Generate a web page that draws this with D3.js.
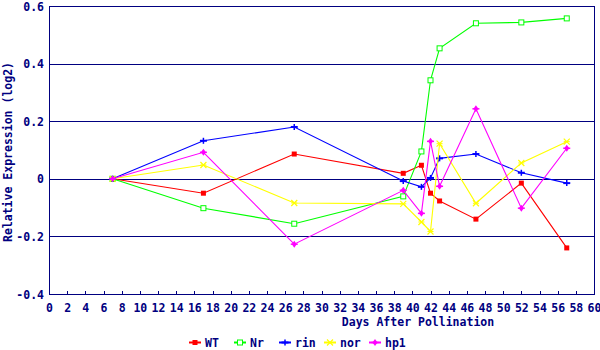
<!DOCTYPE html>
<html><head><meta charset="utf-8">
<script src="https://cdn.jsdelivr.net/npm/d3@7"></script>
<style>body{margin:0;background:#fff}svg{display:block}text{font-family:"DejaVu Sans Mono",monospace;font-weight:bold;font-size:11.5px;fill:#000080}</style>
</head><body><svg id="c" width="600" height="350"></svg>
<script>
const days = [7, 17, 27, 39, 41, 42, 43, 47, 52, 57];
const seriesNames = ["WT", "Nr", "rin", "nor", "hp1"];
const WT  = [0, -0.050, 0.086, 0.019, 0.047, -0.050, -0.077, -0.140, -0.015, -0.240];
const Nr  = [0, -0.102, -0.156, -0.061, 0.095, 0.342, 0.453, 0.540, 0.543, 0.557];
const rin = [0, 0.132, 0.180, -0.008, -0.028, 0.003, 0.071, 0.086, 0.021, -0.015];
const nor = [0, 0.048, -0.084, -0.087, -0.150, -0.183, 0.122, -0.085, 0.055, 0.129];
const hp1 = [0, 0.092, -0.227, -0.040, -0.120, 0.130, -0.026, 0.243, -0.102, 0.106];
const xTicks = d3.range(0, 61, 2);
const yTicks = [-0.4, -0.2, 0, 0.2, 0.4, 0.6];
const xTitle = "Days After Pollination";
const yTitle = "Relative Expression (log2)";

const colors = ["#ff0000", "#00ff00", "#0000ff", "#ffff00", "#ff00ff"];
const shapes = ["fsquare", "osquare", "plus", "cross", "star"];
const values = [WT, Nr, rin, nor, hp1];
const navy = "#000080";
const FONT = '"DejaVu Sans Mono",monospace';

const svg = d3.select("#c");
const L = 49, R = 594, T = 6, B = 294;
const x = d3.scaleLinear().domain([0, 60]).range([L, R]);
const y = d3.scaleLinear().domain([-0.4, 0.6]).range([B, T]);

// gridlines
svg.append("g").selectAll("line").data(yTicks).join("line")
  .attr("x1", L).attr("x2", R).attr("y1", d => y(d) + 0.5).attr("y2", d => y(d) + 0.5)
  .attr("stroke", navy).attr("stroke-width", 1).attr("shape-rendering", "crispEdges");
// frame
svg.append("rect").attr("x", L + 0.5).attr("y", T + 0.5).attr("width", R - L).attr("height", B - T)
  .attr("fill", "none").attr("stroke", navy).attr("shape-rendering", "crispEdges");

// x axis ticks (inward)
const xAxis = d3.axisBottom(x).tickValues(xTicks).tickSize(-4).tickPadding(9).tickFormat(d3.format("d"));
const gx = svg.append("g").attr("transform", `translate(0,${B + 0.5})`).call(xAxis);
gx.select(".domain").remove();
gx.selectAll("line").attr("stroke", navy).attr("shape-rendering", "crispEdges");
gx.selectAll("text").attr("fill", navy).style("font-size", "11.5px").style("font-family", FONT).style("font-weight", "bold");

// y axis labels
const yAxis = d3.axisLeft(y).tickValues(yTicks).tickSize(0).tickPadding(5)
  .tickFormat(d => d === 0 ? "0" : d3.format(".1f")(d).replace("−", "-"));
const gy = svg.append("g").attr("transform", `translate(${L},0)`).call(yAxis);
gy.select(".domain").remove();
gy.selectAll("text").attr("fill", navy).attr("dy", "0.36em").style("font-size", "11.5px").style("font-family", FONT).style("font-weight", "bold");

// titles
svg.append("text").attr("x", 418).attr("y", 326).attr("text-anchor", "middle").text(xTitle);
svg.append("text").attr("transform", "translate(12,152) rotate(-90)").attr("text-anchor", "middle").text(yTitle);

function marker(g, shape, color, cx, cy) {
  if (shape === "fsquare") g.append("rect").attr("x", cx - 2.5).attr("y", cy - 2.5).attr("width", 5).attr("height", 5).attr("fill", color);
  else if (shape === "osquare") g.append("rect").attr("x", cx - 2.5).attr("y", cy - 2.5).attr("width", 5).attr("height", 5).attr("fill", "#fff").attr("stroke", color).attr("stroke-width", 1);
  else if (shape === "plus") {
    g.append("line").attr("x1", cx - 3.5).attr("x2", cx + 3.5).attr("y1", cy).attr("y2", cy).attr("stroke", color).attr("stroke-width", 2);
    g.append("line").attr("x1", cx).attr("x2", cx).attr("y1", cy - 3).attr("y2", cy + 3).attr("stroke", color).attr("stroke-width", 1.5);
  } else if (shape === "cross") {
    g.append("path").attr("d", `M${cx-3},${cy-3}L${cx+3},${cy+3}M${cx-3},${cy+3}L${cx+3},${cy-3}`).attr("stroke", color).attr("stroke-width", 1.2).attr("fill", "none");
    g.append("line").attr("x1", cx - 3).attr("x2", cx + 3).attr("y1", cy).attr("y2", cy).attr("stroke", color).attr("stroke-width", 1);
  } else {
    g.append("path").attr("d", `M${cx},${cy-3.5}L${cx+2.5},${cy}L${cx},${cy+3.5}L${cx-2.5},${cy}Z`).attr("fill", color);
    g.append("line").attr("x1", cx - 3.5).attr("x2", cx + 3.5).attr("y1", cy).attr("y2", cy).attr("stroke", color).attr("stroke-width", 1.5);
  }
}

const line = d3.line().x(d => x(d[0])).y(d => y(d[1]));
values.forEach((vals, i) => {
  const pts = days.map((d, j) => [d, vals[j]]);
  const g = svg.append("g");
  g.append("path").attr("d", line(pts)).attr("fill", "none").attr("stroke", colors[i]).attr("stroke-width", 1.1);
  pts.forEach(p => marker(g, shapes[i], colors[i], x(p[0]), y(p[1])));
});

// legend
const leg = svg.append("g");
seriesNames.forEach((n, i) => {
  const lx = 189 + i * 45, ly = 342.5;
  leg.append("line").attr("x1", lx).attr("x2", lx + 12).attr("y1", ly).attr("y2", ly).attr("stroke", colors[i]).attr("stroke-width", 2);
  marker(leg, shapes[i], colors[i], lx + 6, ly);
  leg.append("text").attr("x", lx + 16).attr("y", 346.5).text(n);
});
</script></body></html>
